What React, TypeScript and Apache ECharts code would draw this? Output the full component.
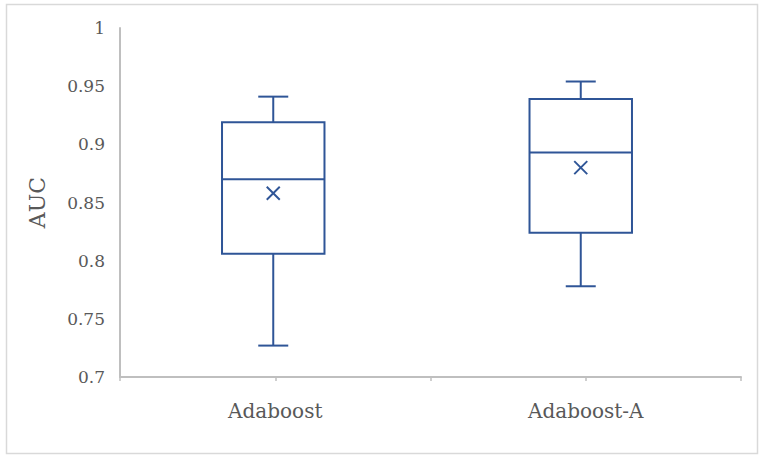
import React, { useEffect, useRef } from "react";
import * as echarts from "echarts";

const categories = ["Adaboost", "Adaboost-A"];
const lowerWhisker = [0.727, 0.778];
const q1 = [0.806, 0.824];
const median = [0.870, 0.893];
const q3 = [0.919, 0.939];
const upperWhisker = [0.941, 0.954];
const mean = [0.858, 0.880];
const yTicks = [0.7, 0.75, 0.8, 0.85, 0.9, 0.95, 1];

const BOX = "#2F5597";
const TEXT = "#595959";
const AXIS = "#BFBFBF";
const FONT = "DejaVu Serif";

export default function App() {
  const ref = useRef<HTMLDivElement>(null);
  useEffect(() => {
    if (!ref.current) return;
    const chart = echarts.init(ref.current, null, { renderer: "svg" });
    const data = categories.map((c, i) => [i, lowerWhisker[i], q1[i], median[i], q3[i], upperWhisker[i], mean[i]]);
    chart.setOption({
      animation: false,
      backgroundColor: "#ffffff",
      graphic: [
        {
          type: "rect",
          shape: { x: 6.5, y: 4.5, width: 751, height: 449 },
          style: { fill: "none", stroke: "#D9D9D9", lineWidth: 1.5 },
          silent: true,
        },
      ],
      grid: { left: 120, right: 25, top: 28, bottom: 81 },
      xAxis: [
        {
          type: "category",
          data: categories,
          boundaryGap: true,
          axisLine: { show: true, lineStyle: { color: AXIS, width: 2 } },
          axisTick: { show: true, length: 4, lineStyle: { color: AXIS, width: 1.5 } },
          axisLabel: { color: TEXT, fontFamily: FONT, fontSize: 20, margin: 24 },
          splitLine: { show: false },
        },
        {
          type: "category",
          data: categories,
          position: "bottom",
          boundaryGap: true,
          axisLine: { show: false },
          axisTick: { show: true, alignWithLabel: true, length: 4, lineStyle: { color: AXIS, width: 1.5 } },
          axisLabel: { show: false },
          splitLine: { show: false },
        },
      ],
      yAxis: {
        type: "value",
        min: 0.7,
        max: 1,
        interval: 0.05,
        name: "AUC",
        nameLocation: "middle",
        nameGap: 72,
        nameTextStyle: { color: TEXT, fontFamily: FONT, fontSize: 22 },
        axisLine: { show: true, lineStyle: { color: AXIS, width: 2 } },
        axisTick: { show: false },
        splitLine: { show: false },
        axisLabel: {
          color: TEXT,
          fontFamily: FONT,
          fontSize: 17,
          margin: 15,
          formatter: (v: number) => {
            const t = yTicks.find((x) => Math.abs(x - v) < 1e-6);
            return t === undefined ? "" : String(Number(t.toFixed(2)));
          },
        },
      },
      series: [
        {
          type: "custom",
          xAxisIndex: 0,
          data,
          encode: { x: 0, y: [1, 2, 3, 4, 5, 6] },
          renderItem: (params: any, api: any) => {
            const idx = api.value(0);
            const band = api.size([1, 0])[0];
            const half = (band * 0.33) / 2;
            const capHalf = 15;
            const pLow = api.coord([idx, api.value(1)]);
            const pQ1 = api.coord([idx, api.value(2)]);
            const pMed = api.coord([idx, api.value(3)]);
            const pQ3 = api.coord([idx, api.value(4)]);
            const pHigh = api.coord([idx, api.value(5)]);
            const pMean = api.coord([idx, api.value(6)]);
            const cx = pMed[0] - (idx === 0 ? 2 : 5);
            const st = { stroke: BOX, lineWidth: 2, fill: "none" };
            const m = 6.5;
            return {
              type: "group",
              children: [
                { type: "rect", shape: { x: cx - half, y: pQ3[1], width: half * 2, height: pQ1[1] - pQ3[1] }, style: st },
                { type: "line", shape: { x1: cx - half, y1: pMed[1], x2: cx + half, y2: pMed[1] }, style: st },
                { type: "line", shape: { x1: cx, y1: pQ3[1], x2: cx, y2: pHigh[1] }, style: st },
                { type: "line", shape: { x1: cx, y1: pQ1[1], x2: cx, y2: pLow[1] }, style: st },
                { type: "line", shape: { x1: cx - capHalf, y1: pHigh[1], x2: cx + capHalf, y2: pHigh[1] }, style: st },
                { type: "line", shape: { x1: cx - capHalf, y1: pLow[1], x2: cx + capHalf, y2: pLow[1] }, style: st },
                { type: "line", shape: { x1: cx - m, y1: pMean[1] - m, x2: cx + m, y2: pMean[1] + m }, style: st },
                { type: "line", shape: { x1: cx - m, y1: pMean[1] + m, x2: cx + m, y2: pMean[1] - m }, style: st },
              ],
            };
          },
        },
      ],
    });
    return () => chart.dispose();
  }, []);
  return (
    <div
      ref={ref}
      style={{ position: "fixed", left: 0, top: 0, width: 766, height: 458, background: "#fff" }}
    />
  );
}
